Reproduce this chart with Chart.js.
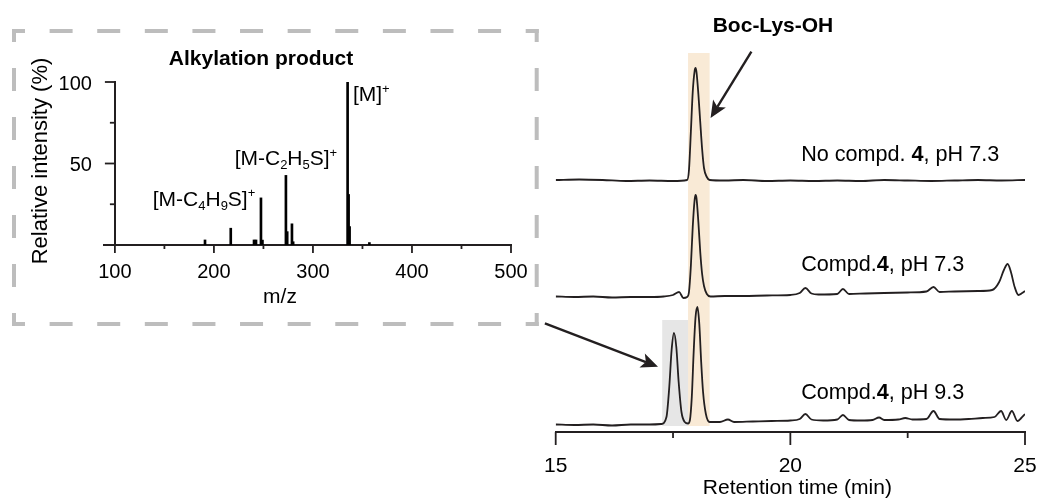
<!DOCTYPE html>
<html>
<head>
<meta charset="utf-8">
<script src="https://cdn.jsdelivr.net/npm/chart.js@4"></script>
<style>
  body { margin: 0; background: #fff; width: 1038px; height: 499px; position: relative; overflow: hidden; }
  canvas { position: absolute; top: 0; }
  #msChart { left: 0; }
  #lcChart { left: 540px; }
</style>
</head>
<body>
<canvas id="msChart" width="540" height="340"></canvas>
<canvas id="lcChart" width="498" height="499"></canvas>
<script>
// ESI-MS of the alkylation product
const msMz = [191, 217, 240.5, 242.5, 247.5, 249, 272.7, 274, 278.8, 280, 335, 336, 337, 357];
const msIntensity = [3.1, 10.3, 3.1, 3.1, 28.9, 3, 42.7, 8.2, 13, 2, 100, 31, 11.3, 1.5];
const mzTicks = [100, 150, 200, 250, 300, 350, 400, 450, 500];
const intensityTicks = [25, 50, 75, 100];

// HPLC traces (stacked, arbitrary units)
const rtNone = [15.0, 15.5, 16.0, 16.5, 17.0, 17.5, 17.8, 17.84, 17.88, 17.92, 17.96, 17.98, 18.0, 18.04, 18.08, 18.12, 18.16, 18.22, 18.28, 18.6, 19.0, 19.5, 20.0, 20.5, 21.0, 21.5, 22.0, 22.5, 23.0, 23.5, 24.0, 24.5, 25.0];
const sigNone = [252, 252.5, 252, 251, 251.5, 251, 252, 262, 300, 340, 361, 364, 360, 338, 310, 283, 264, 255, 252, 251.5, 252, 251, 251.5, 251, 251.5, 251, 252, 251.5, 251, 251.5, 252, 251.5, 252];

const rt73 = [15.0, 15.4, 15.8, 16.2, 16.6, 17.0, 17.3, 17.5, 17.63, 17.72, 17.8, 17.84, 17.88, 17.92, 17.96, 17.98, 18.0, 18.04, 18.08, 18.12, 18.16, 18.22, 18.3, 18.6, 19.0, 19.5, 20.0, 20.2, 20.32, 20.45, 20.6, 21.0, 21.12, 21.25, 21.6, 22.0, 22.5, 22.9, 23.05, 23.18, 23.5, 24.0, 24.3, 24.45, 24.55, 24.63, 24.7, 24.78, 24.86, 24.94, 25.0];
const sig73 = [135.5, 135, 135.5, 134.5, 135, 135, 135.5, 137, 140, 134, 135, 140, 166, 205, 232, 237, 234, 210, 180, 158, 146, 138, 135.5, 136, 136, 136.5, 137, 139, 144, 138.5, 137.5, 138, 143, 138, 138.5, 139, 139.5, 140.5, 145, 140, 140.5, 141, 142, 150, 162, 168, 160, 145, 137, 139, 141];

const rt93 = [15.0, 15.4, 15.8, 16.2, 16.6, 17.0, 17.25, 17.36, 17.42, 17.47, 17.52, 17.57, 17.62, 17.68, 17.75, 17.82, 17.86, 17.9, 17.94, 17.98, 18.02, 18.06, 18.1, 18.14, 18.2, 18.28, 18.5, 18.67, 18.8, 19.2, 19.6, 20.0, 20.2, 20.32, 20.45, 20.7, 21.0, 21.12, 21.25, 21.5, 21.75, 21.89, 22.0, 22.3, 22.45, 22.6, 22.9, 23.05, 23.18, 23.5, 23.8, 24.1, 24.35, 24.49, 24.6, 24.72, 24.84, 24.92, 25.0];
const sig93 = [7.5, 7, 7.5, 6.5, 7.5, 7.5, 8, 15, 45, 82, 99, 85, 50, 20, 10, 8.5, 12, 35, 80, 115, 125, 108, 70, 40, 18, 10, 10, 12.5, 10, 10.5, 11, 11.5, 13, 18, 12.5, 11.5, 12.5, 17, 12, 11.5, 12, 14.5, 12, 12.5, 14, 12.5, 13, 21, 13, 12.5, 13, 14, 15, 21, 12, 21, 11, 14, 18];
const rtTicks = [15, 17.5, 20, 22.5, 25];

// highlighted peaks: [start, end, top]
const bandBoc = [17.82, 18.28, 379];
const bandProduct = [17.27, 17.82, 112];

const FONT = "'Liberation Sans', Arial, Helvetica, sans-serif";
const INK = '#231f20';
Chart.defaults.font.family = FONT;
Chart.defaults.color = '#000';

function richText(ctx, parts, x, y, size, align) {
  const spec = p => {
    const kind = p[1] || '';
    const small = kind === 'sub' || kind === 'sup';
    const s = small ? Math.round(size * 0.62) : size;
    return {
      font: (kind === 'b' ? 'bold ' : '') + s + 'px ' + FONT,
      dy: kind === 'sub' ? size * 0.3 : kind === 'sup' ? -size * 0.3 : 0
    };
  };
  let total = 0;
  parts.forEach(p => { ctx.font = spec(p).font; total += ctx.measureText(p[0]).width; });
  let cx = align === 'center' ? x - total / 2 : align === 'right' ? x - total : x;
  ctx.textAlign = 'left';
  ctx.textBaseline = 'middle';
  parts.forEach(p => {
    const sp = spec(p);
    ctx.font = sp.font;
    ctx.fillText(p[0], cx, y + sp.dy);
    cx += ctx.measureText(p[0]).width;
  });
}

function arrow(ctx, x1, y1, x2, y2) {
  const a = Math.atan2(y2 - y1, x2 - x1);
  const hl = 17, hw = 7.5, notch = 4;
  const cos = Math.cos(a), sin = Math.sin(a);
  const bx = x2 - hl * cos, by = y2 - hl * sin;
  ctx.beginPath();
  ctx.moveTo(x1, y1);
  ctx.lineTo(x2 - (hl - notch) * cos, y2 - (hl - notch) * sin);
  ctx.stroke();
  ctx.beginPath();
  ctx.moveTo(x2, y2);
  ctx.lineTo(bx + hw * sin, by - hw * cos);
  ctx.lineTo(x2 - (hl - notch) * cos, y2 - (hl - notch) * sin);
  ctx.lineTo(bx - hw * sin, by + hw * cos);
  ctx.closePath();
  ctx.fill();
}

// dashed side with solid corner pieces
function dashedSide(ctx, x1, y1, x2, y2) {
  const len = Math.hypot(x2 - x1, y2 - y1);
  const end = 13, dash = 23;
  const n = Math.max(0, Math.floor((len - 2 * end - dash) / (2 * dash)));
  const gap = (len - 2 * end - n * dash) / (n + 1);
  const pattern = [end];
  for (let i = 0; i < n; i++) pattern.push(gap, dash);
  pattern.push(gap, end, 1000);
  ctx.setLineDash(pattern);
  ctx.beginPath();
  ctx.moveTo(x1, y1);
  ctx.lineTo(x2, y2);
  ctx.stroke();
}

// tick marks with separate major/minor lengths
function drawTicks(ctx, scale, values, isMajor, majorLen, minorLen, horizontal, base) {
  ctx.save();
  ctx.strokeStyle = INK;
  ctx.lineWidth = 1.8;
  values.forEach(v => {
    const p = scale.getPixelForValue(v);
    const len = isMajor(v) ? majorLen : minorLen;
    ctx.beginPath();
    if (horizontal) { ctx.moveTo(p, base); ctx.lineTo(p, base + len); }
    else { ctx.moveTo(base, p); ctx.lineTo(base - len, p); }
    ctx.stroke();
  });
  ctx.restore();
}

// keep the plot area where the layout padding puts it
const noLabelPadding = s => { s.paddingLeft = 0; s.paddingRight = 0; };

const msDecor = {
  id: 'msDecor',
  afterDraw(chart) {
    const ctx = chart.ctx, x = chart.scales.x, y = chart.scales.y;
    const axisX = x.getPixelForValue(100);
    drawTicks(ctx, x, mzTicks, v => v % 100 === 0, 8, 4, true, chart.chartArea.bottom);
    drawTicks(ctx, y, intensityTicks, v => v % 50 === 0, 10, 5, false, axisX);

    ctx.save();
    ctx.strokeStyle = '#bdbdbd';
    ctx.lineWidth = 4;
    ctx.lineCap = 'butt';
    dashedSide(ctx, 12, 31, 538.7, 31);
    dashedSide(ctx, 12, 324, 538.7, 324);
    dashedSide(ctx, 14, 29, 14, 326);
    dashedSide(ctx, 536.7, 29, 536.7, 326);
    ctx.restore();

    ctx.save();
    ctx.fillStyle = '#000';
    intensityTicks.filter(v => v % 50 === 0).forEach(v => {
      richText(ctx, [[String(v)]], axisX - 23, y.getPixelForValue(v) + 2, 20, 'right');
    });
    richText(ctx, [['Alkylation product', 'b']], 261, 59, 21, 'center');
    richText(ctx, [['m/z']], 280, 297, 21, 'center');
    richText(ctx, [['[M]'], ['+', 'sup']], x.getPixelForValue(340.4), y.getPixelForValue(91.6), 21, 'left');
    richText(ctx, [['[M-C'], ['2', 'sub'], ['H'], ['5', 'sub'], ['S]'], ['+', 'sup']],
      x.getPixelForValue(272.7), y.getPixelForValue(52.5), 21, 'center');
    richText(ctx, [['[M-C'], ['4', 'sub'], ['H'], ['9', 'sub'], ['S]'], ['+', 'sup']],
      x.getPixelForValue(190), y.getPixelForValue(27.7), 21, 'center');
    ctx.translate(41, 161);
    ctx.rotate(-Math.PI / 2);
    richText(ctx, [['Relative intensity (%)']], 0, 0, 22, 'center');
    ctx.restore();
  }
};

new Chart(document.getElementById('msChart'), {
  type: 'bar',
  data: {
    datasets: [{
      data: msMz.map((m, i) => ({ x: m, y: msIntensity[i] })),
      backgroundColor: '#000',
      barThickness: 2
    }]
  },
  options: {
    responsive: false,
    animation: false,
    layout: { padding: { left: 104, right: 29, top: 82, bottom: 0 } },
    plugins: { legend: { display: false }, tooltip: { enabled: false } },
    scales: {
      x: {
        type: 'linear',
        offset: false,
        min: 89,
        max: 500,
        afterBuildTicks: s => { s.ticks = mzTicks.map(v => ({ value: v })); },
        afterFit: s => { s.height = 95; noLabelPadding(s); },
        grid: { display: false, drawTicks: false },
        border: { display: true, color: INK, width: 2 },
        ticks: { padding: 15, font: { size: 20 }, color: '#000', maxRotation: 0, callback: v => (v % 100 === 0 ? v : '') }
      },
      y: {
        position: { x: 100 },
        min: 0,
        max: 100,
        grid: { display: false, drawTicks: false },
        border: { display: true, color: INK, width: 2 },
        ticks: { display: false }
      }
    }
  },
  plugins: [msDecor]
});

const lcDecor = {
  id: 'lcDecor',
  beforeDatasetsDraw(chart) {
    const ctx = chart.ctx, x = chart.scales.x, y = chart.scales.y;
    const base = y.getPixelForValue(6);
    ctx.save();
    [[bandBoc, '#f9ead6'], [bandProduct, '#e6e6e6']].forEach(([b, c]) => {
      const l = x.getPixelForValue(b[0]), r = x.getPixelForValue(b[1]);
      const t = y.getPixelForValue(b[2]);
      ctx.fillStyle = c;
      ctx.fillRect(l, t, r - l, base - t);
    });
    ctx.restore();
  },
  afterDraw(chart) {
    const ctx = chart.ctx, x = chart.scales.x, y = chart.scales.y;
    drawTicks(ctx, x, rtTicks, v => Number.isInteger(v), 13, 6, true, chart.chartArea.bottom);
    ctx.save();
    ctx.fillStyle = '#000';
    ctx.strokeStyle = INK;
    ctx.lineWidth = 2.4;
    richText(ctx, [['Boc-Lys-OH', 'b']], x.getPixelForValue(19.63), 26, 21, 'center');
    ctx.fillStyle = INK;
    arrow(ctx, x.getPixelForValue(19.17), y.getPixelForValue(380.3), x.getPixelForValue(18.3), y.getPixelForValue(314));
    arrow(ctx, x.getPixelForValue(14.77), y.getPixelForValue(108.7), x.getPixelForValue(17.18), y.getPixelForValue(65.3));
    ctx.fillStyle = '#000';
    const lx = x.getPixelForValue(20.23);
    richText(ctx, [['No compd. '], ['4', 'b'], [', pH 7.3']], lx, y.getPixelForValue(277), 21.6, 'left');
    richText(ctx, [['Compd.'], ['4', 'b'], [', pH 7.3']], lx, y.getPixelForValue(167), 21.6, 'left');
    richText(ctx, [['Compd.'], ['4', 'b'], [', pH 9.3']], lx, y.getPixelForValue(39.3), 21.6, 'left');
    richText(ctx, [['Retention time (min)']], x.getPixelForValue(20.15), 488, 21, 'center');
    ctx.restore();
  }
};

const trace = (rt, sig) => ({
  data: rt.map((t, i) => ({ x: t, y: sig[i] })),
  borderColor: INK,
  borderWidth: 1.8,
  pointRadius: 0,
  cubicInterpolationMode: 'monotone',
  fill: false
});

new Chart(document.getElementById('lcChart'), {
  type: 'line',
  data: { datasets: [trace(rtNone, sigNone), trace(rt73, sig73), trace(rt93, sig93)] },
  options: {
    responsive: false,
    animation: false,
    layout: { padding: { left: 15.7, right: 13, top: 45, bottom: 0 } },
    plugins: { legend: { display: false }, tooltip: { enabled: false } },
    scales: {
      x: {
        type: 'linear',
        min: 15,
        max: 25,
        afterBuildTicks: s => { s.ticks = rtTicks.map(v => ({ value: v })); },
        afterFit: s => { s.height = 67; noLabelPadding(s); },
        grid: { display: false, drawTicks: false },
        border: { display: true, color: INK, width: 2 },
        ticks: { padding: 22, font: { size: 21 }, color: '#000', maxRotation: 0, callback: v => (Number.isInteger(v) ? v : '') }
      },
      y: { display: false, min: 0, max: 387 }
    }
  },
  plugins: [lcDecor]
});
</script>
</body>
</html>
